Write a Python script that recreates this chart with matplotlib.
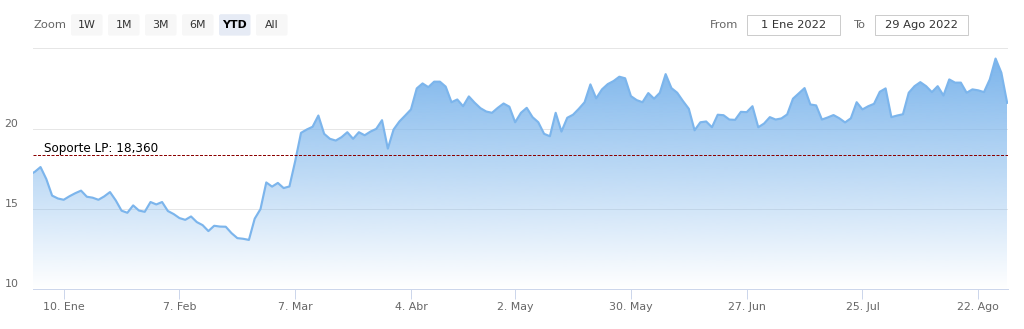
import numpy as np
import pandas as pd
import matplotlib
matplotlib.use('Agg')
import matplotlib.pyplot as plt
from matplotlib.patches import FancyBboxPatch, Rectangle
from matplotlib.transforms import offset_copy

# sesiones bursatiles: 31 dic 2021 (punto previo) a 29 ago 2022, sin festivos de Semana Santa
holidays = ['2022-04-15', '2022-04-18']
dates = pd.bdate_range('2021-12-31', '2022-08-29')
dates = dates[~dates.isin(pd.to_datetime(holidays))]

prices = [
    17.10, 17.30, 17.60, 16.85, 15.82, 15.64, 15.56, 15.78, 15.97, 16.13,
    15.75, 15.69, 15.56, 15.77, 16.04, 15.52, 14.88, 14.75, 15.21, 14.89,
    14.81, 15.42, 15.27, 15.42, 14.86, 14.67, 14.42, 14.31, 14.52, 14.17,
    13.98, 13.61, 13.94, 13.89, 13.88, 13.48, 13.17, 13.13, 13.06, 14.38,
    14.98, 16.64, 16.38, 16.61, 16.29, 16.39, 17.97, 19.73, 19.94, 20.11,
    20.81, 19.67, 19.36, 19.25, 19.46, 19.77, 19.36, 19.77, 19.58, 19.81,
    19.98, 20.52, 18.75, 19.94, 20.44, 20.81, 21.19, 22.50, 22.81, 22.58,
    22.92, 22.92, 22.61, 21.64, 21.81, 21.39, 22.00, 21.61, 21.27, 21.06,
    20.98, 21.29, 21.56, 21.36, 20.39, 20.98, 21.29, 20.71, 20.39, 19.67,
    19.52, 20.98, 19.81, 20.67, 20.86, 21.23, 21.64, 22.75, 21.88, 22.44,
    22.77, 22.96, 23.23, 23.13, 22.02, 21.77, 21.64, 22.21, 21.86, 22.23,
    23.39, 22.52, 22.23, 21.71, 21.23, 19.89, 20.39, 20.44, 20.08, 20.86,
    20.83, 20.56, 20.54, 21.04, 21.02, 21.39, 20.08, 20.31, 20.71, 20.56,
    20.63, 20.88, 21.86, 22.19, 22.52, 21.50, 21.44, 20.56, 20.69, 20.84,
    20.64, 20.38, 20.64, 21.64, 21.19, 21.39, 21.54, 22.29, 22.50, 20.71,
    20.81, 20.89, 22.23, 22.64, 22.89, 22.64, 22.27, 22.64, 22.06, 23.06,
    22.86, 22.86, 22.23, 22.44, 22.38, 22.27, 23.06, 24.36, 23.48, 21.60,
]

soporte = 18.36
soporte_label = 'Soporte LP: 18,360'

tick_dates = ['2022-01-10', '2022-02-07', '2022-03-07', '2022-04-04', '2022-05-02',
              '2022-05-30', '2022-06-27', '2022-07-25', '2022-08-22']
tick_labels = ['10. Ene', '7. Feb', '7. Mar', '4. Abr', '2. May',
               '30. May', '27. Jun', '25. Jul', '22. Ago']
y_ticks = [10, 15, 20, 25]
y_labels = ['10', '15', '20', '']

zoom_buttons = ['1W', '1M', '3M', '6M', 'YTD', 'All']
selected = 'YTD'
date_from = '1 Ene 2022'
date_to = '29 Ago 2022'

line_color = '#7cb5ec'
W, H = 1024, 329
PT = 0.72  # px -> pt at dpi 100

plt.rcParams['font.family'] = ['DejaVu Sans']
fig = plt.figure(figsize=(W / 100, H / 100), dpi=100)

# header (range selector) drawn in pixel coordinates
hdr = fig.add_axes([0, 0, 1, 1], zorder=0)
hdr.set_xlim(0, W)
hdr.set_ylim(H, 0)
hdr.axis('off')

hdr.text(33, 25, 'Zoom', color='#666666', fontsize=11.5 * PT, ha='left', va='center')
bx = 71
for b in zoom_buttons:
    sel = b == selected
    hdr.add_patch(FancyBboxPatch((bx, 14.2), 31.5, 21.4,
                                 boxstyle='round,pad=0,rounding_size=2',
                                 fc='#e6ebf5' if sel else '#f7f7f7', ec='none'))
    hdr.text(bx + 15.75, 25, b, fontsize=11 * PT, ha='center', va='center',
             color='#000000' if sel else '#333333',
             fontweight='bold' if sel else 'normal')
    bx += 37.0

hdr.text(724, 25, 'From', color='#666666', fontsize=11.5 * PT, ha='center', va='center')
hdr.add_patch(Rectangle((747, 14.5), 93.3, 20.8, fc='white', ec='#cccccc', lw=PT))
hdr.text(793.6, 25, date_from, color='#333333', fontsize=11.5 * PT, ha='center', va='center')
hdr.text(859.5, 25, 'To', color='#666666', fontsize=11.5 * PT, ha='center', va='center')
hdr.add_patch(Rectangle((874.5, 14.5), 93.5, 20.8, fc='white', ec='#cccccc', lw=PT))
hdr.text(921.3, 25, date_to, color='#333333', fontsize=11.5 * PT, ha='center', va='center')

# main plot
ax = fig.add_axes([33.3 / W, 1 - 289 / H, 975 / W, (289 - 48.3) / H], zorder=1)
ax.patch.set_alpha(0)
x = np.arange(len(prices))
y = np.array(prices)

area = ax.fill_between(x, y, 10, color='none', lw=0)
grad = np.zeros((256, 1, 4))
grad[:, 0, :3] = matplotlib.colors.to_rgb(line_color)
grad[:, 0, 3] = np.linspace(1, 0, 256)
im = ax.imshow(grad, extent=[x[0], x[-1], 10, y.max()], aspect='auto',
               origin='upper', zorder=1, interpolation='bilinear')
im.set_clip_path(area.get_paths()[0], transform=ax.transData)

ax.plot(x, y, color=line_color, lw=1.55, zorder=3, solid_joinstyle='round')

ax.axhline(soporte, color='#8b0000', lw=PT, ls=(0, (3, 1.5)), zorder=4)
ax.text(0.0105, soporte, soporte_label, transform=offset_copy(
    ax.get_yaxis_transform(), fig=fig, x=0, y=2.5, units='dots'),
    fontsize=12 * PT, color='#000000', ha='left', va='baseline', zorder=5)

ax.set_xlim(0.75, 169.2)
ax.set_ylim(10, 25)

tick_idx = [dates.get_loc(pd.Timestamp(d)) for d in tick_dates]
ax.set_xticks(tick_idx)
ax.set_xticklabels(tick_labels)
ax.tick_params(axis='x', length=10 * PT, width=PT, color='#ccd6eb',
               labelsize=11 * PT, labelcolor='#666666', pad=2)

ax.set_yticks(y_ticks)
ax.tick_params(axis='y', length=0, labelleft=False)
ax.yaxis.grid(True, color='#e6e6e6', lw=PT)
ax.set_axisbelow(True)
lab_tr = offset_copy(ax.get_yaxis_transform(), fig=fig, x=0, y=2, units='dots')
for v, s in zip(y_ticks, y_labels):
    ax.text(-0.0296, v, s, transform=lab_tr, fontsize=11 * PT, color='#666666',
            ha='left', va='baseline')

for side in ['top', 'left', 'right']:
    ax.spines[side].set_visible(False)
ax.spines['bottom'].set_color('#ccd6eb')
ax.spines['bottom'].set_linewidth(PT)

fig.savefig('out.png', dpi=100, facecolor='white')
